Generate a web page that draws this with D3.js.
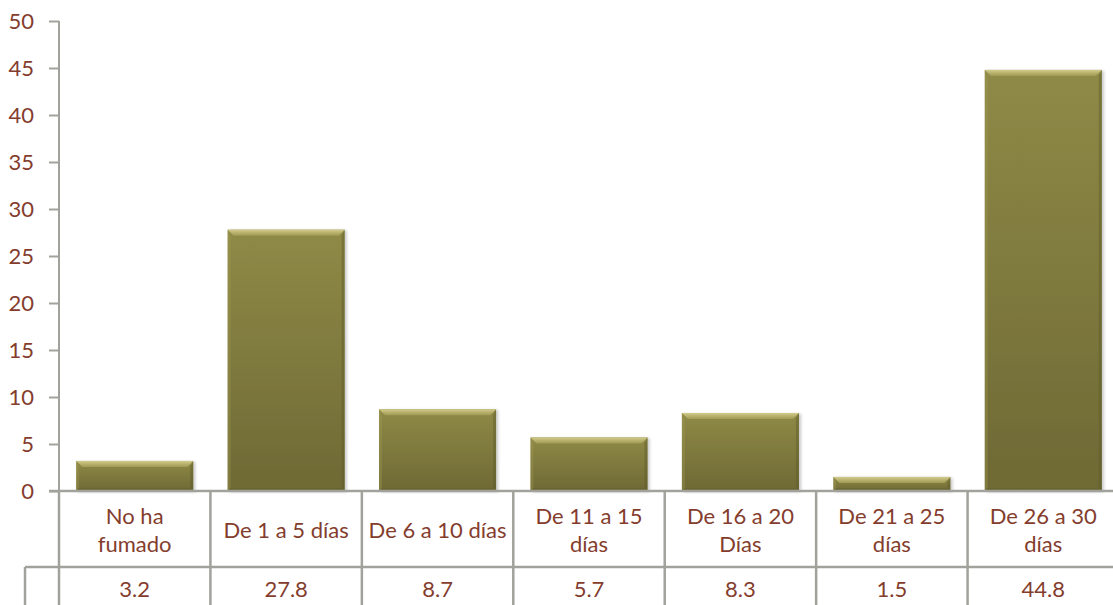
<!DOCTYPE html>
<html><head><meta charset="utf-8">
<script src="https://cdn.jsdelivr.net/npm/d3@7"></script>
<style>
html,body{margin:0;padding:0;background:#fff;}
svg{display:block;}
text{font-family:Lato,"Open Sans",sans-serif;fill:#843D2D;}
</style></head>
<body>
<svg id="chart" width="1113" height="605"></svg>
<script>
const categories = [["No ha","fumado"],["De 1 a 5 días"],["De 6 a 10 días"],["De 11 a 15","días"],["De 16 a 20","Días"],["De 21 a 25","días"],["De 26 a 30","días"]];
const values = [3.2, 27.8, 8.7, 5.7, 8.3, 1.5, 44.8];
const valueLabels = ["3.2","27.8","8.7","5.7","8.3","1.5","44.8"];
const yTicks = [0,5,10,15,20,25,30,35,40,45,50];

const svg = d3.select("#chart");
const fs = 22;
const gridColor = "#A2A29C";
const x0 = 59, plotW = 1060, yTop = 21, yBot = 491, row1 = 567, row2 = 620;
const keys = categories.map((c,i)=>i);
const x = d3.scaleBand().domain(keys).range([x0, x0+plotW]).paddingInner(0.227).paddingOuter(0.1135);
const y = d3.scaleLinear().domain([0,50]).range([yBot, yTop]);

const defs = svg.append("defs");
const g1 = defs.append("linearGradient").attr("id","barGrad").attr("x1",0).attr("y1",0).attr("x2",0).attr("y2",1);
g1.append("stop").attr("offset","0%").attr("stop-color","#8F8A46");
g1.append("stop").attr("offset","100%").attr("stop-color","#6E6935");
const g2 = defs.append("linearGradient").attr("id","topGrad").attr("x1",0).attr("y1",0).attr("x2",0).attr("y2",1);
g2.append("stop").attr("offset","0%").attr("stop-color","#D2CB8A");
g2.append("stop").attr("offset","100%").attr("stop-color","#A09A54");
const f = defs.append("filter").attr("id","shadow").attr("x","-10%").attr("y","-10%").attr("width","130%").attr("height","130%");
f.append("feDropShadow").attr("dx",2).attr("dy",1).attr("stdDeviation",1.5).attr("flood-color","#000").attr("flood-opacity",0.22);

// bars
const bars = svg.append("g").selectAll("g").data(values).join("g");
bars.each(function(v,i){
  const g = d3.select(this);
  const bx = x(i), bw = x.bandwidth(), by = y(v), bh = yBot - y(v);
  g.append("rect").attr("x",bx).attr("y",by).attr("width",bw).attr("height",bh)
    .attr("fill","url(#barGrad)").attr("filter","url(#shadow)");
  const bev = Math.min(6, bh/2);
  g.append("path").attr("d",`M${bx},${by} L${bx+bw},${by} L${bx+bw-bev},${by+bev} L${bx+bev},${by+bev} Z`).attr("fill","url(#topGrad)");
  g.append("path").attr("d",`M${bx},${by} L${bx+bev/2},${by+bev} L${bx+bev/2},${yBot-bev/2} L${bx},${yBot} Z`).attr("fill","#A09A54").attr("opacity",0.35);
  g.append("path").attr("d",`M${bx+bw},${by} L${bx+bw-bev/2},${by+bev} L${bx+bw-bev/2},${yBot-bev/2} L${bx+bw},${yBot} Z`).attr("fill","#5E5A2B").attr("opacity",0.45);
  g.append("path").attr("d",`M${bx},${yBot} L${bx+bev/2},${yBot-bev/2} L${bx+bw-bev/2},${yBot-bev/2} L${bx+bw},${yBot} Z`).attr("fill","#5E5A2B").attr("opacity",0.3);
});

// y axis
const ax = svg.append("g").attr("transform",`translate(${x0},0)`)
  .call(d3.axisLeft(y).tickValues(yTicks).tickSize(10).tickPadding(15));
ax.selectAll("path,line").attr("stroke",gridColor).attr("stroke-width",2);
ax.select(".domain").attr("d",`M0,${yTop}V${yBot}`);
ax.selectAll("text").style("font-family","Lato").attr("font-size",fs).attr("fill","#843D2D");

// table lines
const tl = svg.append("g").attr("stroke",gridColor).attr("stroke-width",2.5);
tl.append("line").attr("x1",x0-10).attr("x2",1113).attr("y1",yBot).attr("y2",yBot);
tl.append("line").attr("x1",25).attr("x2",1113).attr("y1",row1).attr("y2",row1);
tl.append("line").attr("x1",25).attr("x2",25).attr("y1",row1).attr("y2",row2);
const step = x.step();
d3.range(categories.length+1).forEach(i=>{
  const lx = x0 + i*step;
  tl.append("line").attr("x1",lx).attr("x2",lx).attr("y1",yBot).attr("y2",row2);
});

// category labels
const lab = svg.append("g").selectAll("text").data(categories).join("text")
  .attr("text-anchor","middle").attr("font-size",fs)
  .attr("x",(d,i)=>x(i)+x.bandwidth()/2);
lab.each(function(d){
  const t = d3.select(this);
  if(d.length===1){
    t.append("tspan").attr("x",t.attr("x")).attr("y",538).text(d[0]);
  } else {
    t.append("tspan").attr("x",t.attr("x")).attr("y",524).text(d[0]);
    t.append("tspan").attr("x",t.attr("x")).attr("y",552).text(d[1]);
  }
});

// value labels
svg.append("g").selectAll("text").data(valueLabels).join("text")
  .attr("text-anchor","middle").attr("font-size",fs)
  .attr("x",(d,i)=>x(i)+x.bandwidth()/2).attr("y",597).text(d=>d);
</script>
</body></html>
